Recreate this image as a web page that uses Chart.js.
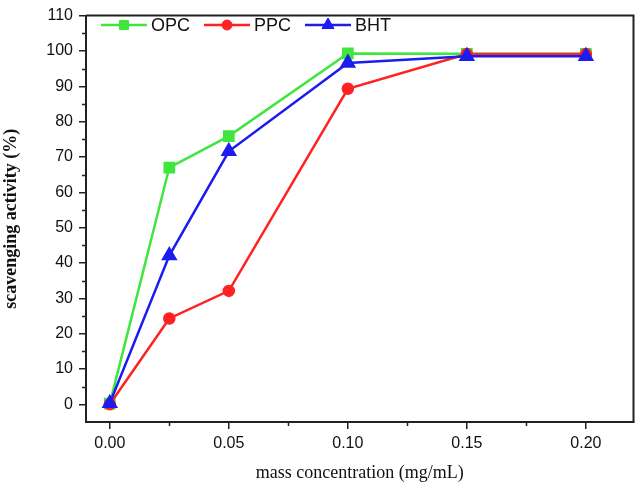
<!DOCTYPE html>
<html>
<head>
<meta charset="utf-8">
<script src="https://cdn.jsdelivr.net/npm/chart.js@4/dist/chart.umd.min.js"></script>
<style>
  html, body { margin: 0; padding: 0; background: #fff; }
  #wrap { width: 643px; height: 486px; }
</style>
</head>
<body>
<div id="wrap"><canvas id="chart" width="643" height="486"></canvas></div>
<script>
// values
const concentrations = [0, 0.025, 0.05, 0.10, 0.15, 0.20];
const opcValues = [0.2, 67.0, 75.9, 99.3, 99.2, 99.2];
const ppcValues = [0.0, 24.3, 32.1, 89.3, 99.1, 99.1];
const bhtValues = [0.3, 42.1, 71.6, 96.6, 98.5, 98.5];

const xTickValues = [0, 0.05, 0.10, 0.15, 0.20];
const xMinorTicks = [0.025, 0.075, 0.125, 0.175];
const yTickValues = [0, 10, 20, 30, 40, 50, 60, 70, 80, 90, 100, 110];
const yMinorTicks = [5, 15, 25, 35, 45, 55, 65, 75, 85, 95, 105];

const seriesNames = ['OPC', 'PPC', 'BHT'];

const INK = '#222';
const GREEN = '#3ee63e';
const RED = '#ff2222';
const BLUE = '#1c1cee';

const toPoints = vals => vals.map((v, i) => ({ x: concentrations[i], y: v }));

// top/right frame + minor ticks
const framePlugin = {
  id: 'frame',
  beforeDatasetsDraw(chart) {
    const { ctx, chartArea: a, scales } = chart;
    ctx.save();
    ctx.strokeStyle = INK;
    ctx.lineWidth = 2;
    ctx.beginPath();
    ctx.moveTo(a.left, a.top);
    ctx.lineTo(a.right, a.top);
    ctx.lineTo(a.right, a.bottom);
    ctx.stroke();

    ctx.lineWidth = 1.5;
    ctx.beginPath();
    yMinorTicks.forEach(v => {
      const py = Math.round(scales.y.getPixelForValue(v)) + 0.5;
      ctx.moveTo(a.left - 4, py);
      ctx.lineTo(a.left, py);
    });
    xMinorTicks.forEach(v => {
      const px = Math.round(scales.x.getPixelForValue(v)) + 0.5;
      ctx.moveTo(px, a.bottom);
      ctx.lineTo(px, a.bottom + 4);
    });
    ctx.stroke();
    ctx.restore();
  }
};

// legend: line - marker - line, then label
const legendPlugin = {
  id: 'lineLegend',
  afterDraw(chart) {
    const { ctx } = chart;
    const xs = [101, 204, 305];
    const y = 25;
    ctx.save();
    chart.data.datasets.forEach((ds, i) => {
      const x0 = xs[i];
      ctx.strokeStyle = ds.borderColor;
      ctx.fillStyle = ds.backgroundColor;
      ctx.lineWidth = 2.5;
      ctx.beginPath();
      ctx.moveTo(x0, y);
      ctx.lineTo(x0 + 46, y);
      ctx.stroke();
      ctx.lineWidth = 1;
      Chart.helpers.drawPoint(ctx, {
        pointStyle: ds.pointStyle,
        radius: ds.pointRadius,
        rotation: 0,
        borderWidth: 1
      }, x0 + 23, y);
      ctx.fillStyle = '#111';
      ctx.font = '18px "Liberation Sans", Arial, sans-serif';
      ctx.textBaseline = 'middle';
      ctx.textAlign = 'left';
      ctx.fillText(ds.label, x0 + 50, y + 1);
    });
    ctx.restore();
  }
};

const tickFont = { family: '"Liberation Sans", Arial, sans-serif', size: 16 };

new Chart(document.getElementById('chart'), {
  type: 'line',
  data: {
    datasets: [
      { label: seriesNames[0], data: toPoints(opcValues), borderColor: GREEN, backgroundColor: GREEN,
        pointStyle: 'rect', pointRadius: 6.5, borderWidth: 2.5, order: 2 },
      { label: seriesNames[1], data: toPoints(ppcValues), borderColor: RED, backgroundColor: RED,
        pointStyle: 'circle', pointRadius: 5, borderWidth: 2.5, order: 1 },
      { label: seriesNames[2], data: toPoints(bhtValues), borderColor: BLUE, backgroundColor: BLUE,
        pointStyle: 'triangle', pointRadius: 7, borderWidth: 2.5, order: 0 }
    ]
  },
  options: {
    responsive: false,
    animation: false,
    layout: { padding: { top: 11, right: 4, left: 0, bottom: 0 } },
    elements: { line: { tension: 0 }, point: { borderWidth: 1 } },
    plugins: { legend: { display: false }, tooltip: { enabled: false } },
    scales: {
      x: {
        type: 'linear',
        min: -0.01,
        max: 0.22,
        afterBuildTicks: s => { s.ticks = xTickValues.map(v => ({ value: v })); },
        afterFit: s => { s.height = 64; },
        ticks: { callback: v => v.toFixed(2), font: tickFont, color: '#111', padding: 5,
                 maxRotation: 0, autoSkip: false },
        grid: { drawOnChartArea: false, drawTicks: true, tickLength: 7, color: INK, lineWidth: 1.5 },
        border: { display: true, color: INK, width: 2 },
        title: { display: true, text: 'mass concentration (mg/mL)', color: '#111',
                 font: { family: '"Liberation Serif", "Times New Roman", serif', size: 18 },
                 padding: { top: 0, bottom: 2 } }
      },
      y: {
        type: 'linear',
        min: -5,
        max: 110,
        afterBuildTicks: s => { s.ticks = yTickValues.map(v => ({ value: v })); },
        afterFit: s => { s.width = 86; },
        ticks: { font: tickFont, color: '#111', padding: 6, autoSkip: false },
        grid: { drawOnChartArea: false, drawTicks: true, tickLength: 7, color: INK, lineWidth: 1.5 },
        border: { display: true, color: INK, width: 2 },
        title: { display: true, text: 'scavenging activity (%)', color: '#111',
                 font: { family: '"Liberation Serif", "Times New Roman", serif', size: 18, weight: 'bold' },
                 padding: { top: 1, bottom: 0 } }
      }
    }
  },
  plugins: [framePlugin, legendPlugin]
});
</script>
</body>
</html>
